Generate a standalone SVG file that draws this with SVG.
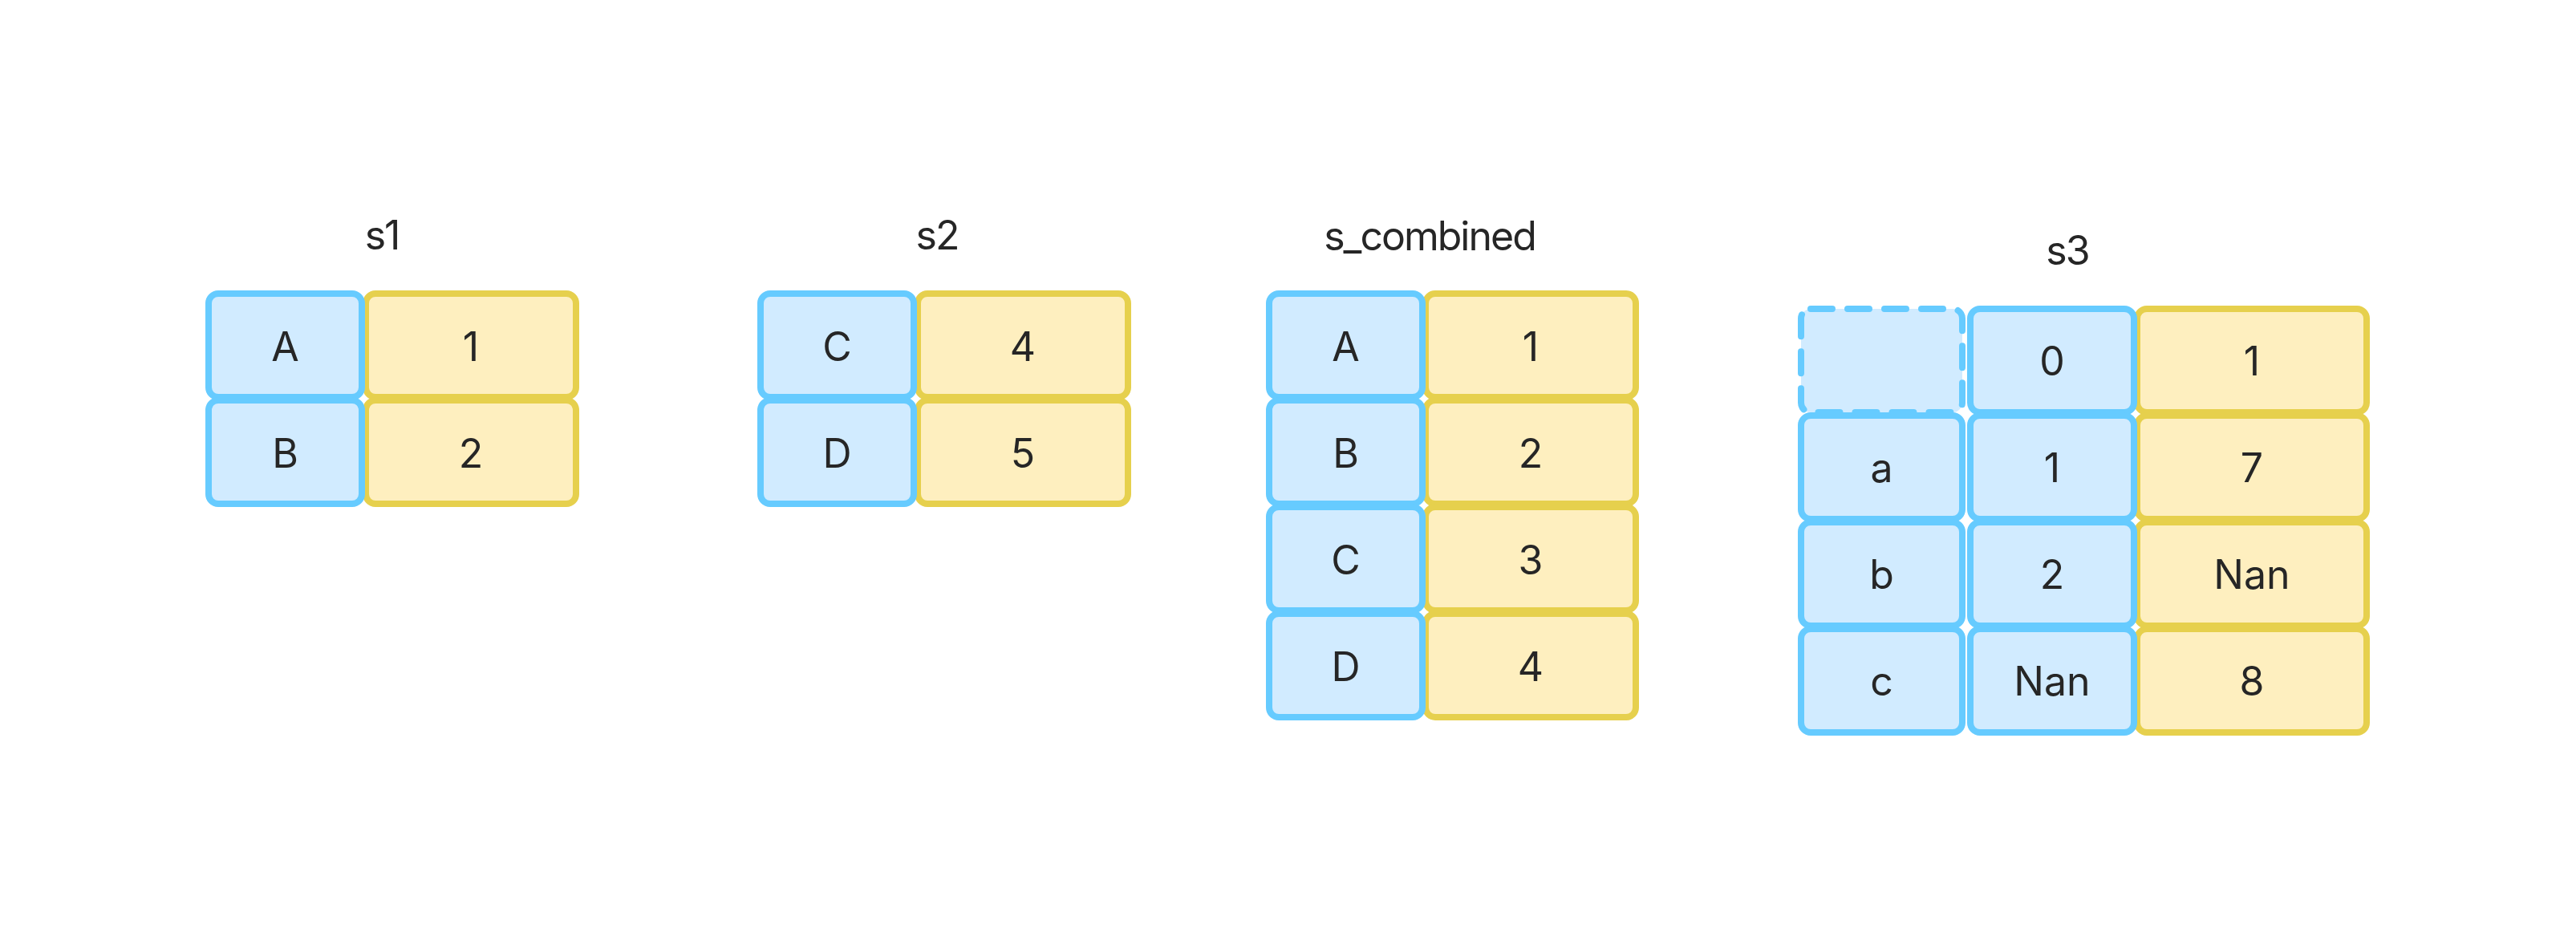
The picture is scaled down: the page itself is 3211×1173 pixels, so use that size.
<svg xmlns="http://www.w3.org/2000/svg" width="3211" height="1173" viewBox="0 0 3211 1173">
<style>
.b{fill:#d1ebff;stroke:#66cbff;stroke-width:8}
.y{fill:#feefbf;stroke:#e6d04d;stroke-width:8}
.d{fill:#d1ebff;stroke:#66cbff;stroke-width:8;stroke-dasharray:27 19;stroke-linecap:round}
text{font-family:Inter,"Liberation Sans",sans-serif;font-size:50px;fill:#262626;text-anchor:middle}
.t{letter-spacing:-2px}
</style>
<rect width="3211" height="1173" fill="#ffffff"/>
<g id="s1">
<text class="t" x="476" y="311">s1</text>
<rect class="y" x="456" y="366" width="262" height="129" rx="12"/>
<rect class="y" x="456" y="499" width="262" height="129" rx="12"/>
<rect class="b" x="260" y="366" width="191" height="129" rx="12"/>
<rect class="b" x="260" y="499" width="191" height="129" rx="12"/>
<text x="355.5" y="450">A</text><text x="587" y="450">1</text>
<text x="355.5" y="583">B</text><text x="587" y="583">2</text>
</g>
<g id="s2">
<text class="t" x="1168" y="311">s2</text>
<rect class="y" x="1144" y="366" width="262" height="129" rx="12"/>
<rect class="y" x="1144" y="499" width="262" height="129" rx="12"/>
<rect class="b" x="948" y="366" width="191" height="129" rx="12"/>
<rect class="b" x="948" y="499" width="191" height="129" rx="12"/>
<text x="1043.5" y="450">C</text><text x="1275" y="450">4</text>
<text x="1043.5" y="583">D</text><text x="1275" y="583">5</text>
</g>
<g id="s_combined">
<text class="t" x="1782" y="312">s_combined</text>
<rect class="y" x="1777" y="366" width="262" height="129" rx="12"/>
<rect class="y" x="1777" y="499" width="262" height="129" rx="12"/>
<rect class="y" x="1777" y="632" width="262" height="129" rx="12"/>
<rect class="y" x="1777" y="765" width="262" height="129" rx="12"/>
<rect class="b" x="1582" y="366" width="191" height="129" rx="12"/>
<rect class="b" x="1582" y="499" width="191" height="129" rx="12"/>
<rect class="b" x="1582" y="632" width="191" height="129" rx="12"/>
<rect class="b" x="1582" y="765" width="191" height="129" rx="12"/>
<text x="1677.5" y="450">A</text><text x="1908" y="450">1</text>
<text x="1677.5" y="583">B</text><text x="1908" y="583">2</text>
<text x="1677.5" y="716">C</text><text x="1908" y="716">3</text>
<text x="1677.5" y="849">D</text><text x="1908" y="849">4</text>
</g>
<g id="s3">
<text class="t" x="2577" y="330">s3</text>
<rect class="y" x="2664" y="385" width="286" height="129" rx="12"/>
<rect class="y" x="2664" y="518" width="286" height="129" rx="12"/>
<rect class="y" x="2664" y="651" width="286" height="129" rx="12"/>
<rect class="y" x="2664" y="784" width="286" height="129" rx="12"/>
<rect class="d" x="2245" y="385" width="201" height="129" rx="12"/>
<rect class="b" x="2456" y="385" width="204" height="129" rx="12"/>
<rect class="b" x="2245" y="518" width="201" height="129" rx="12"/>
<rect class="b" x="2456" y="518" width="204" height="129" rx="12"/>
<rect class="b" x="2245" y="651" width="201" height="129" rx="12"/>
<rect class="b" x="2456" y="651" width="204" height="129" rx="12"/>
<rect class="b" x="2245" y="784" width="201" height="129" rx="12"/>
<rect class="b" x="2456" y="784" width="204" height="129" rx="12"/>
<text x="2558" y="468">0</text><text x="2807" y="468">1</text>
<text x="2345.5" y="601">a</text><text x="2558" y="601">1</text><text x="2807" y="601">7</text>
<text x="2345.5" y="734">b</text><text x="2558" y="734">2</text><text x="2807" y="734">Nan</text>
<text x="2345.5" y="867">c</text><text x="2558" y="867">Nan</text><text x="2807" y="867">8</text>
</g>
<g id="connectors"></g>
</svg>
